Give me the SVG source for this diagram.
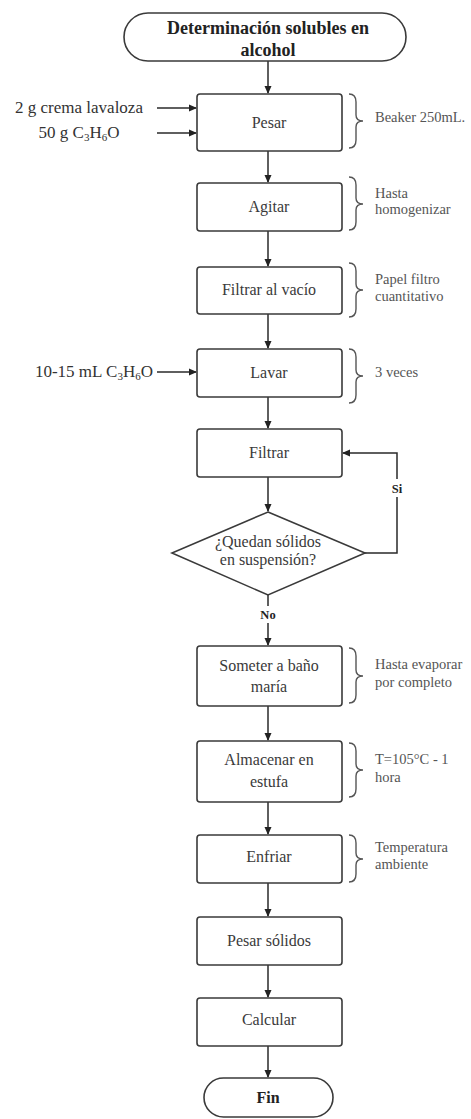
<svg xmlns="http://www.w3.org/2000/svg" width="471" height="1119" viewBox="0 0 471 1119">
<defs>
<marker id="ah" markerWidth="8" markerHeight="8" refX="7" refY="4" orient="auto" markerUnits="userSpaceOnUse">
<path d="M0,0.5 L8,4 L0,7.5 Z" fill="#222"/>
</marker>
<style>
.box{fill:#fff;stroke:#3a3a3a;stroke-width:1.6}
.t{font-family:"Liberation Serif","Times New Roman",serif;font-size:16px;fill:#3a3a3a;text-anchor:middle}
.b{font-family:"Liberation Serif","Times New Roman",serif;font-weight:bold;fill:#222;text-anchor:middle}
.in{font-family:"Liberation Serif","Times New Roman",serif;font-size:17px;fill:#333}
.s{font-family:"Liberation Serif","Times New Roman",serif;font-size:14.5px;fill:#555}
.c{fill:none;stroke:#2a2a2a;stroke-width:1.5}
.br{fill:none;stroke:#555;stroke-width:1.4}
.sub{font-size:11px}
</style>
</defs>
<rect width="471" height="1119" fill="#fff"/>

<g id="connectors">
<path class="c" d="M268,61 V93" marker-end="url(#ah)"/>
<path class="c" d="M157,108 H196" marker-end="url(#ah)"/>
<path class="c" d="M157,133 H196" marker-end="url(#ah)"/>
<path class="c" d="M268,151 V182" marker-end="url(#ah)"/>
<path class="c" d="M268,231 V266" marker-end="url(#ah)"/>
<path class="c" d="M268,314 V348" marker-end="url(#ah)"/>
<path class="c" d="M157,372 H196" marker-end="url(#ah)"/>
<path class="c" d="M268,397 V428" marker-end="url(#ah)"/>
<path class="c" d="M268,477 V511" marker-end="url(#ah)"/>
<path class="c" d="M365,553 H397 V453 H343" marker-end="url(#ah)"/>
<path class="c" d="M268,595 V645" marker-end="url(#ah)"/>
<path class="c" d="M268,706 V740" marker-end="url(#ah)"/>
<path class="c" d="M268,802 V834" marker-end="url(#ah)"/>
<path class="c" d="M268,883 V916" marker-end="url(#ah)"/>
<path class="c" d="M268,965 V997" marker-end="url(#ah)"/>
<path class="c" d="M268,1046 V1077" marker-end="url(#ah)"/>
<rect x="389" y="479" width="16" height="18" fill="#fff"/>
<text class="b" x="397" y="493" font-size="12.5">Si</text>
<rect x="257" y="606" width="22" height="17" fill="#fff"/>
<text class="b" x="268" y="619" font-size="12.5">No</text>
</g>

<g id="start">
<rect class="box" x="124" y="13" width="282" height="48" rx="24"/>
<text class="b" x="268" y="34" font-size="18">Determinación solubles en</text>
<text class="b" x="268" y="56" font-size="18">alcohol</text>
</g>

<g id="inputs">
<text class="in" x="79" y="113" text-anchor="middle">2 g crema lavaloza</text>
<text class="in" x="79" y="138" text-anchor="middle">50 g C<tspan class="sub" dy="3">3</tspan><tspan dy="-3">H</tspan><tspan class="sub" dy="3">6</tspan><tspan dy="-3">O</tspan></text>
<text class="in" x="153" y="377" text-anchor="end">10-15 mL C<tspan class="sub" dy="3">3</tspan><tspan dy="-3">H</tspan><tspan class="sub" dy="3">6</tspan><tspan dy="-3">O</tspan></text>
</g>

<g id="pesar">
<rect class="box" x="197" y="94" width="145" height="57" rx="3"/>
<text class="t" x="269" y="128">Pesar</text>
<path class="br" d="M349,94 Q356,94 356,102 V115 Q356,121 363,121 Q356,121 356,127 V140 Q356,148 349,148"/>
<text class="s" x="375" y="122">Beaker 250mL.</text>
</g>

<g id="agitar">
<rect class="box" x="197" y="183" width="145" height="48" rx="3"/>
<text class="t" x="269" y="212">Agitar</text>
<path class="br" d="M349,177 Q356,177 356,185 V198 Q356,204 363,204 Q356,204 356,210 V222 Q356,230 349,230"/>
<text class="s" x="375" y="198">Hasta</text>
<text class="s" x="375" y="214">homogenizar</text>
</g>

<g id="filtrar-vacio">
<rect class="box" x="197" y="267" width="145" height="47" rx="3"/>
<text class="t" x="269" y="295">Filtrar al vacío</text>
<path class="br" d="M349,263 Q356,263 356,271 V284 Q356,290 363,290 Q356,290 356,296 V309 Q356,317 349,317"/>
<text class="s" x="375" y="284">Papel filtro</text>
<text class="s" x="375" y="301">cuantitativo</text>
</g>

<g id="lavar">
<rect class="box" x="197" y="349" width="145" height="48" rx="3"/>
<text class="t" x="269" y="378">Lavar</text>
<path class="br" d="M349,349 Q356,349 356,357 V370 Q356,376 363,376 Q356,376 356,382 V395 Q356,403 349,403"/>
<text class="s" x="375" y="377">3 veces</text>
</g>

<g id="filtrar">
<rect class="box" x="197" y="429" width="145" height="48" rx="3"/>
<text class="t" x="269" y="458">Filtrar</text>
</g>

<g id="decision">
<polygon class="box" points="268,512 365,553 268,595 172,553"/>
<text class="t" x="268" y="547" font-size="15">¿Quedan sólidos</text>
<text class="t" x="268" y="565" font-size="15">en suspensión?</text>
</g>

<g id="someter">
<rect class="box" x="197" y="646" width="145" height="60" rx="3"/>
<text class="t" x="269" y="671">Someter a baño</text>
<text class="t" x="269" y="692">maría</text>
<path class="br" d="M349,648 Q356,648 356,656 V670 Q356,676 363,676 Q356,676 356,682 V695 Q356,703 349,703"/>
<text class="s" x="375" y="669">Hasta evaporar</text>
<text class="s" x="375" y="687">por completo</text>
</g>

<g id="almacenar">
<rect class="box" x="197" y="741" width="145" height="61" rx="3"/>
<text class="t" x="269" y="765">Almacenar en</text>
<text class="t" x="269" y="787">estufa</text>
<path class="br" d="M349,743 Q356,743 356,751 V764 Q356,770 363,770 Q356,770 356,776 V789 Q356,797 349,797"/>
<text class="s" x="375" y="764">T=105°C - 1</text>
<text class="s" x="375" y="782">hora</text>
</g>

<g id="enfriar">
<rect class="box" x="197" y="835" width="145" height="48" rx="3"/>
<text class="t" x="269" y="862">Enfriar</text>
<path class="br" d="M349,835 Q356,835 356,843 V853 Q356,859 363,859 Q356,859 356,865 V874 Q356,882 349,882"/>
<text class="s" x="375" y="852">Temperatura</text>
<text class="s" x="375" y="869">ambiente</text>
</g>

<g id="pesar-solidos">
<rect class="box" x="197" y="917" width="145" height="48" rx="3"/>
<text class="t" x="269" y="946">Pesar sólidos</text>
</g>

<g id="calcular">
<rect class="box" x="197" y="998" width="145" height="48" rx="3"/>
<text class="t" x="269" y="1025">Calcular</text>
</g>

<g id="fin">
<rect class="box" x="204" y="1078" width="129" height="39" rx="19.5"/>
<text class="b" x="268" y="1103" font-size="16">Fin</text>
</g>
</svg>
